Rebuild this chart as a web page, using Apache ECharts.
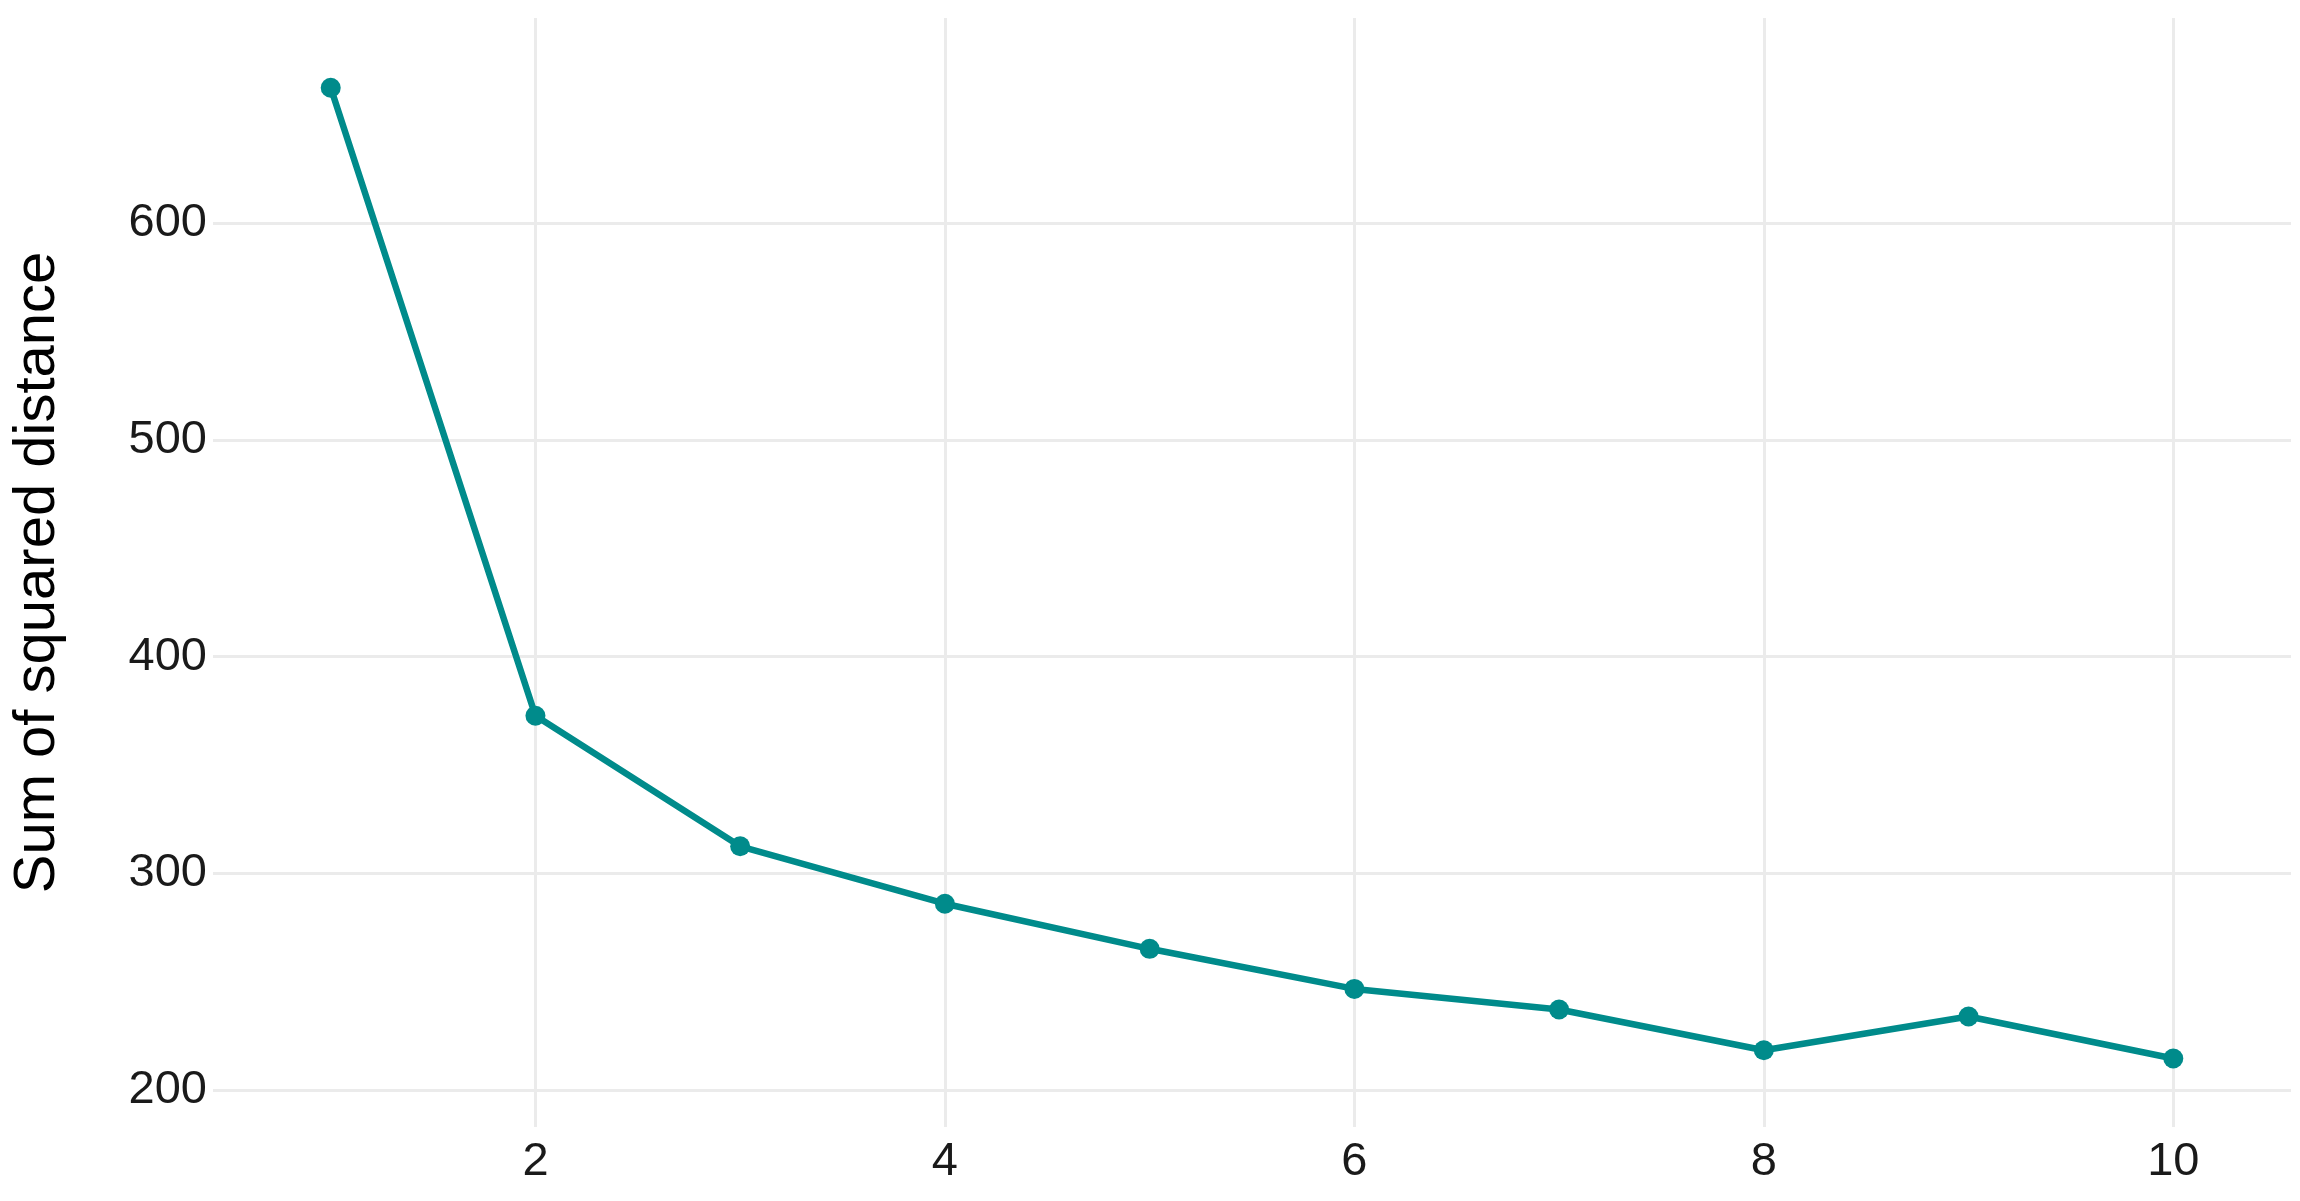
<!DOCTYPE html>
<html>
<head>
<meta charset="utf-8">
<title>Elbow plot</title>
<script src="https://cdn.jsdelivr.net/npm/echarts@6.0.0/dist/echarts.min.js"></script>
<style>
  html, body { margin: 0; padding: 0; background: #fff; }
  #chart { width: 2300px; height: 1201px; }
</style>
</head>
<body>
<div id="chart"></div>
<script>
// number of clusters and the within-cluster sum of squares
const ks = [1, 2, 3, 4, 5, 6, 7, 8, 9, 10];
const wss = [662.4, 372.7, 312.5, 286.0, 265.2, 246.7, 237.2, 218.4, 234.0, 214.6];
const xTicks = [2, 4, 6, 8, 10];
const yTicks = [200, 300, 400, 500, 600];

const chart = echarts.init(document.getElementById("chart"));

const gridLine = { show: true, lineStyle: { color: "#ebebeb", width: 3 } };
const tickFont = { fontFamily: "Liberation Sans, Arial, sans-serif", fontSize: 47, color: "#1a1a1a" };

chart.setOption({
  animation: false,
  grid: { left: 213, right: 9, top: 18, bottom: 74 },
  xAxis: {
    type: "value",
    min: 0.425,
    max: 10.575,
    axisLine: { show: false },
    axisTick: { show: false, customValues: xTicks },
    axisLabel: Object.assign({ customValues: xTicks, margin: 12 }, tickFont),
    splitLine: gridLine,
  },
  yAxis: {
    type: "value",
    min: 183,
    max: 694.6,
    name: "Sum of squared distance",
    nameLocation: "middle",
    nameRotate: 90,
    nameGap: 146,
    nameTextStyle: { fontFamily: "Liberation Sans, Arial, sans-serif", fontSize: 58, color: "#000" },
    axisLine: { show: false },
    axisTick: { show: false, customValues: yTicks },
    axisLabel: Object.assign({ customValues: yTicks, margin: 6 }, tickFont),
    splitLine: gridLine,
  },
  series: [
    {
      type: "line",
      data: ks.map((k, i) => [k, wss[i]]),
      symbol: "circle",
      symbolSize: 20,
      itemStyle: { color: "#008b8b" },
      lineStyle: { color: "#008b8b", width: 6.5 },
    },
  ],
});
</script>
</body>
</html>
